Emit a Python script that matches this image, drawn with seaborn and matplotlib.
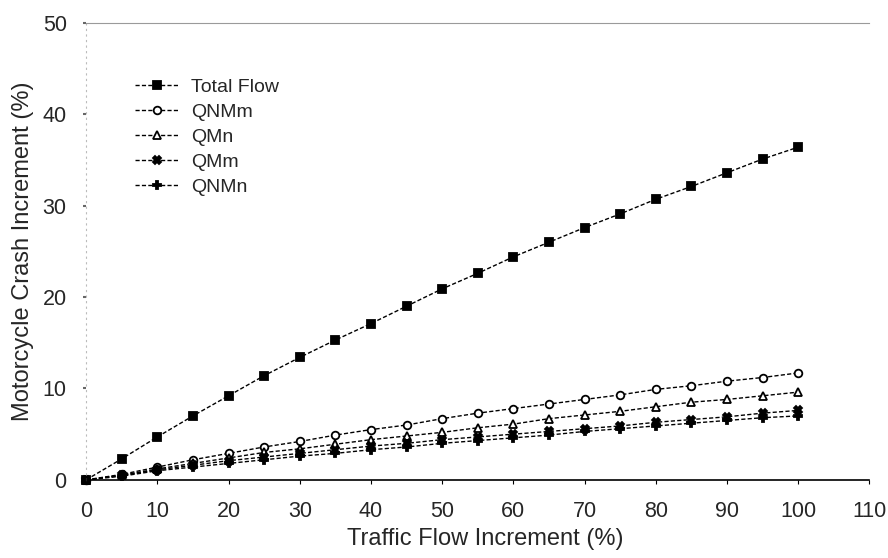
import matplotlib
matplotlib.use("Agg")
from matplotlib import pyplot as plt
from matplotlib import font_manager
import seaborn as sns

# Values.
flow_increment = [0, 5, 10, 15, 20, 25, 30, 35, 40, 45, 50,
                  55, 60, 65, 70, 75, 80, 85, 90, 95, 100]
total_flow = [0, 2.3, 4.7, 7.0, 9.2, 11.4, 13.4, 15.3, 17.1, 19.0, 20.9,
              22.6, 24.4, 26.0, 27.6, 29.1, 30.7, 32.1, 33.6, 35.1, 36.4]
qnmm = [0, 0.6, 1.4, 2.2, 2.9, 3.6, 4.2, 4.9, 5.5, 6.0, 6.7,
        7.3, 7.8, 8.3, 8.8, 9.3, 9.9, 10.3, 10.8, 11.2, 11.7]
qmn = [0, 0.5, 1.2, 1.8, 2.4, 3.0, 3.4, 3.9, 4.4, 4.8, 5.2,
       5.7, 6.1, 6.7, 7.1, 7.5, 8.0, 8.5, 8.8, 9.2, 9.6]
qmm = [0, 0.5, 1.1, 1.6, 2.1, 2.5, 2.9, 3.3, 3.7, 4.0, 4.4,
       4.7, 5.0, 5.3, 5.6, 5.9, 6.3, 6.6, 6.9, 7.3, 7.6]
qnmn = [0, 0.4, 1.0, 1.4, 1.8, 2.2, 2.6, 2.9, 3.3, 3.6, 4.0,
        4.3, 4.6, 4.9, 5.3, 5.6, 5.9, 6.2, 6.5, 6.8, 7.0]

series_names = ["Total Flow", "QNMm", "QMn", "QMm", "QNMn"]
series_values = [total_flow, qnmm, qmn, qmm, qnmn]

x_ticks = list(range(0, 111, 10))
y_ticks = list(range(0, 51, 10))

sns.set_theme(style="white")
plt.rcParams["font.family"] = ["Liberation Sans", "DejaVu Sans"]

# x axis text in the scan is a condensed face, use it if present
installed = {f.name for f in font_manager.fontManager.ttflist}
if "Liberation Sans Narrow" in installed:
    x_family = ["Liberation Sans Narrow", "Liberation Sans"]
    xtick_size, xlabel_size = 18, 20
else:
    x_family = ["Liberation Sans", "DejaVu Sans"]
    xtick_size, xlabel_size = 15.5, 17

fig = plt.figure(figsize=(8.88, 5.58), dpi=100)
ax = fig.add_axes([0.097, 0.14, 0.882, 0.819])

# marker, face colour for each series
styles = {
    "Total Flow": ("s", "black"),
    "QNMm": ("o", "white"),
    "QMn": ("^", "white"),
    "QMm": ("X", "black"),
    "QNMn": ("P", "black"),
}

for name, vals in zip(series_names, series_values):
    mk, face = styles[name]
    sns.lineplot(x=flow_increment, y=vals, ax=ax, label=name, color="black",
                 linestyle=(0, (3, 1.6)), linewidth=1.0,
                 marker=mk, markersize=5.5, markerfacecolor=face,
                 markeredgecolor="black", markeredgewidth=1.3, clip_on=False)

ax.set_xlim(0, 110)
ax.set_ylim(0, 50)
ax.set_xticks(x_ticks)
ax.set_yticks(y_ticks)
ax.set_xticklabels([str(t) for t in x_ticks], family=x_family, fontsize=xtick_size)
ax.tick_params(axis="y", labelsize=15.5, length=2, width=1.5, color="#666666",
               direction="out", pad=12)
ax.tick_params(axis="x", length=3, width=0.8, color="black", direction="out", pad=12)
ax.tick_params(left=True, bottom=True)

ax.set_xlabel("Traffic Flow Increment (%)", fontsize=xlabel_size, family=x_family)
ax.xaxis.set_label_coords(0.51, -0.105)
ax.set_ylabel("Motorcycle Crash Increment (%)", fontsize=17)
ax.yaxis.set_label_coords(-0.066, 0.5)

ax.spines["right"].set_visible(False)
ax.spines["top"].set_color("#9a9a9a")
ax.spines["top"].set_linewidth(0.8)
ax.spines["left"].set_color("#bbbbbb")
ax.spines["left"].set_linestyle((0, (1, 4)))
ax.spines["left"].set_linewidth(0.8)
ax.spines["bottom"].set_color("black")
ax.spines["bottom"].set_linewidth(1.2)

ax.legend(loc="upper left", bbox_to_anchor=(0.052, 0.895), frameon=False,
          fontsize=14, handlelength=2.3, handletextpad=0.6,
          labelspacing=0.38, borderaxespad=0)

fig.savefig("out.png", dpi=100)
